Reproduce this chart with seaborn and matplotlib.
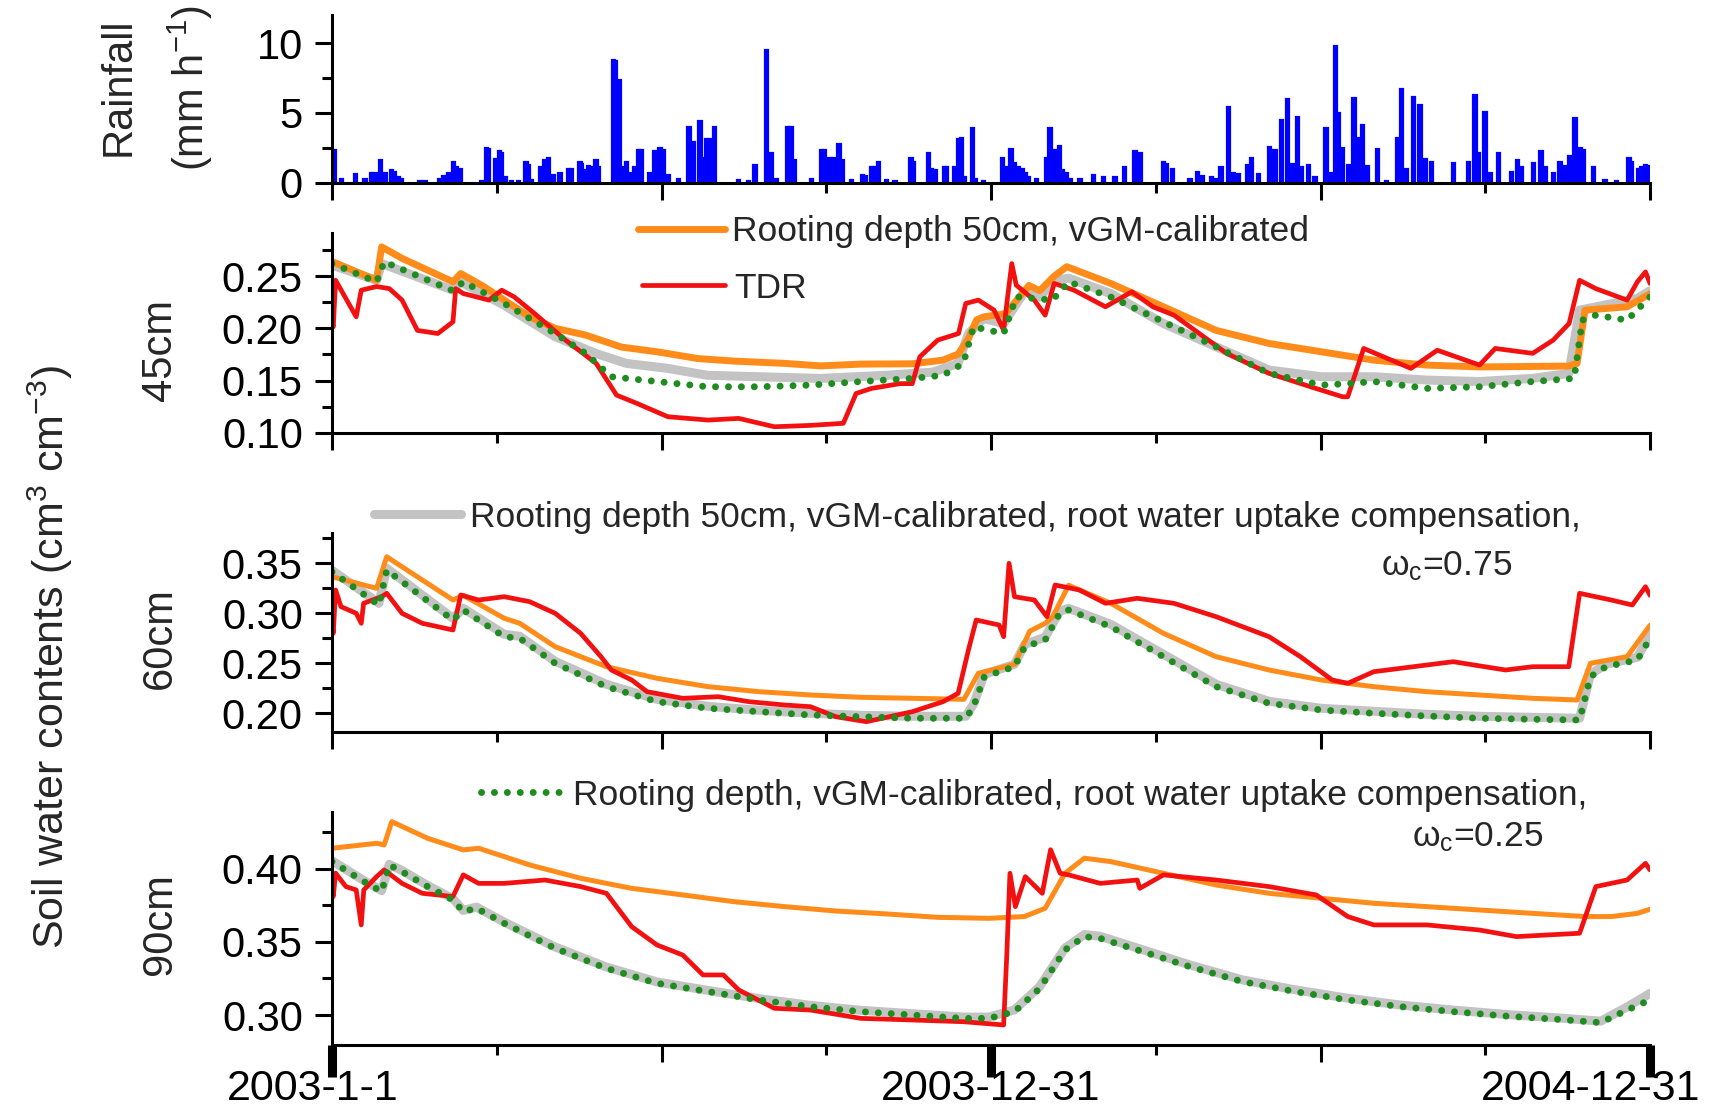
import matplotlib
matplotlib.use("Agg")
import matplotlib.pyplot as plt
import seaborn as sns
from matplotlib.lines import Line2D
from matplotlib.ticker import FixedLocator, NullFormatter, FormatStrFormatter
from matplotlib.transforms import blended_transform_factory, ScaledTranslation

# ---------------- data ----------------
rain_day = [1.3, 5.4, 13.1, 18.3, 22, 23.8, 27, 29.4, 33, 34.3, 36.7, 38.6, 48.7, 51.5, 59.8, 61.7, 64.4,
            67.2, 69, 70.9, 82.9, 85.7, 86.6, 90.6, 92.7, 93.6, 95.8, 99.5, 103.2, 107.5, 108.7, 110.6,
            115.8, 118, 119.8, 122.6, 126.3, 130.9, 132.8, 137.4, 138.3, 140.1, 142, 143.8, 146.2, 147.5,
            156, 157.1, 159, 162.3, 163.2, 164.5, 167.8, 169.7, 171.1, 176.1, 178.9, 181.7, 183.5, 186.3,
            191.8, 197.7, 200.1, 203.8, 205.7, 207.5, 209.4, 211.7, 225, 230.6, 234.3, 240.7, 243.5,
            246.3, 252.4, 254.2, 256.1, 265.7, 271.2, 272.7, 275.8, 277.7, 280.8, 282.7, 287.8, 293.7,
            295.2, 298.9, 300.4, 302.6, 307.2, 311.8, 320.7, 322, 330.3, 332.1, 334, 339.5, 340.5, 345.1,
            346.9, 348.8, 350.2, 354.9, 356.1, 360.7, 371.3, 372.8, 376.1, 377.9, 380.1, 382.3, 383.8,
            385.7, 390.3, 395.8, 397.7, 400.4, 402.8, 404.7, 406.9, 408.8, 414.3, 421.7, 427.2, 433.7,
            438.8, 444.7, 447.5, 460.4, 462.3, 465.4, 475.2, 479.5, 482, 487.2, 489.1, 492.4, 496.5,
            499.2, 502, 507.2, 509.4, 513.1, 519.2, 522.3, 526, 529.1, 531.9, 534.7, 537.1, 540.8, 544.5,
            550.5, 552.8, 555.9, 557.4, 559.8, 562.9, 566.1, 568.5, 570.9, 573.4, 579.2, 584.2, 590.2,
            592.5, 595.2, 598.9, 602.6, 605.4, 609.1, 621.1, 629.4, 633.1, 635, 638.6, 641.4, 646, 653.4,
            656.7, 658.9, 665.4, 669.6, 671.8, 676.4, 680.1, 682.9, 685.7, 688.4, 691.2, 693, 698.6, 705,
            711.6, 718.4, 719.8, 723.5, 725.4, 727.6, 729.4]
rain_mm = [2.35, 0.3, 0.6, 0.25, 0.7, 0.7, 1.6, 0.7, 0.9, 0.8, 0.4, 0.25, 0.15, 0.15, 0.3, 0.5, 0.7,
           1.45, 1.15, 1.0, 0.15, 2.5, 2.4, 1.7, 2.25, 2.1, 0.4, 0.15, 0.15, 1.5, 1.3, 0.2,
           1.15, 1.6, 1.75, 0.55, 0.7, 0.95, 0.95, 1.45, 1.35, 0.9, 1.2, 1.1, 1.6, 1.15,
           8.8, 8.7, 7.4, 1.15, 1.5, 0.7, 1.15, 2.35, 2.35, 0.7, 2.3, 2.5, 2.35, 0.55,
           0.3, 4.0, 2.95, 4.4, 1.75, 3.1, 3.1, 4.0, 0.2, 0.15, 1.3, 9.55, 2.1,
           0.3, 4.0, 4.0, 1.6, 0.3, 2.35, 2.35, 1.8, 1.75, 2.8, 1.6, 0.2, 0.55,
           0.5, 1.15, 1.15, 1.45, 0.2, 0.15, 1.8, 1.5, 2.1, 1.0, 0.9, 1.15, 1.15, 1.15,
           3.1, 3.2, 0.4, 3.9, 0.3, 0.15, 1.8, 1.15, 2.4, 1.4, 1.15, 0.95, 0.7,
           0.4, 0.25, 1.8, 3.9, 2.35, 2.65, 0.9, 0.7, 0.3, 0.3, 0.55, 0.4, 0.4,
           1.15, 2.25, 2.15, 1.5, 1.35, 1.0, 0.3, 0.8, 0.5, 0.4, 0.3, 1.1, 5.4,
           0.7, 0.6, 1.3, 1.75, 0.6, 2.55, 2.35, 4.5, 6.0, 1.35, 4.7, 1.15, 1.3, 0.4,
           3.9, 0.7, 9.8, 5.0, 2.5, 1.3, 6.1, 3.2, 4.15, 1.2, 2.4, 0.15, 3.2,
           6.75, 1.0, 6.15, 5.6, 1.7, 1.5, 1.4, 1.5, 6.3, 2.1, 5.05, 0.7, 2.1, 0.8,
           1.6, 1.15, 1.4, 2.3, 1.15, 0.7, 1.45, 1.2, 1.9, 4.65, 2.5, 2.35, 1.1, 0.2,
           0.15, 1.8, 1.5, 0.95, 1.15, 1.3, 1.2]

# 45 cm
o45_day = [0, 24.7, 27.5, 38.8, 67, 71.3, 84, 95.4, 109.5, 123.6, 140.5, 160.3, 180, 202.7, 222.5, 250.7,
           270.5, 293, 321.4, 338.4, 346.8, 352.5, 357, 361, 373, 386, 392, 400, 407, 431.3, 460.5, 489.7,
           519, 548, 577, 606, 635.6, 685, 689.6, 694, 717.3, 730]
o45_val = [0.264, 0.246, 0.278, 0.267, 0.2445, 0.2525, 0.240, 0.227, 0.211, 0.200, 0.1935, 0.182, 0.1775,
           0.171, 0.1686, 0.1664, 0.164, 0.1657, 0.166, 0.1695, 0.1753, 0.190, 0.208, 0.211, 0.214, 0.241,
           0.236, 0.250, 0.259, 0.243, 0.2206, 0.198, 0.1855, 0.1775, 0.1695, 0.1648, 0.163, 0.1638,
           0.1664, 0.2174, 0.2206, 0.233]
g45_day = [0, 24.7, 27.5, 67, 71.3, 95.4, 123.6, 146, 163, 186, 208, 236.6, 270.5, 307, 332.7, 346.8,
           352.5, 361, 372, 383.5, 392, 400, 408, 431.3, 460.5, 489.7, 519, 548, 577, 606.4, 635.6, 665,
           685, 691, 723, 730]
g45_val = [0.2605, 0.246, 0.262, 0.2365, 0.2445, 0.222, 0.192, 0.176, 0.1664, 0.1616, 0.155, 0.1536,
           0.152, 0.155, 0.158, 0.1664, 0.195, 0.2094, 0.2046, 0.235, 0.230, 0.246, 0.248, 0.2333, 0.2046,
           0.1823, 0.160, 0.1536, 0.1536, 0.1504, 0.149, 0.152, 0.1568, 0.2174, 0.2286, 0.236]
gr45_day = [0, 24.7, 28.9, 67, 72.7, 95.4, 123.6, 140.5, 154.6, 180, 208, 236.6, 265, 293, 321.4, 338.4,
            349.7, 355.3, 372, 379, 399, 408, 431.3, 460.5, 489.7, 519, 548, 562.6, 577, 606.4, 635.6,
            665, 688, 692.5, 700, 717.3, 730]
gr45_val = [0.262, 0.2445, 0.2637, 0.236, 0.2445, 0.2238, 0.195, 0.176, 0.1536, 0.149, 0.144, 0.144,
            0.1456, 0.149, 0.152, 0.155, 0.1664, 0.2014, 0.195, 0.2302, 0.227, 0.2445, 0.230, 0.2062,
            0.1823, 0.1568, 0.1456, 0.147, 0.149, 0.1424, 0.144, 0.149, 0.152, 0.2078, 0.2126, 0.2078,
            0.230]
r45_day = [0, 0.7, 2, 13.4, 16.2, 24.7, 31.8, 38.8, 47.3, 58.6, 67, 68.5, 72.7, 86.9, 94, 101, 112.3,
           129.3, 146.3, 157.6, 169, 186, 208.3, 225.3, 245, 265, 283.2, 290.3, 298.8, 314.6, 321.4,
           325.6, 335.5, 347, 351, 358, 366.7, 372, 373.7, 376.5, 379, 389, 395, 400, 411, 428.4, 443,
           454.7, 466.3, 478, 495.5, 519, 542, 559.7, 562.6, 571.4, 597.6, 612.2, 635.6, 644.3, 665,
           676.4, 685.2, 691, 700, 717.3, 723, 727.5, 730]
r45_val = [0.205, 0.2014, 0.246, 0.211, 0.2365, 0.240, 0.238, 0.227, 0.198, 0.195, 0.2062, 0.238,
           0.2333, 0.227, 0.2365, 0.230, 0.214, 0.1887, 0.1664, 0.136, 0.128, 0.1153, 0.1121, 0.1137,
           0.1057, 0.107, 0.109, 0.1376, 0.1424, 0.147, 0.147, 0.1727, 0.1887, 0.195, 0.2238, 0.227,
           0.2174, 0.198, 0.223, 0.262, 0.2413, 0.227, 0.2126, 0.243, 0.2365, 0.2206, 0.235, 0.2206,
           0.2126, 0.198, 0.176, 0.1568, 0.144, 0.1344, 0.1344, 0.1807, 0.1616, 0.179, 0.1648, 0.1807,
           0.176, 0.1887, 0.2046, 0.246, 0.238, 0.227, 0.2445, 0.254, 0.243]

# 60 cm
o60_day = [0, 24.7, 30.3, 67, 72.7, 95.4, 104, 123.6, 152, 180, 208.3, 236.6, 265, 293, 321.4, 350,
           358, 378, 386.4, 395, 399, 408, 431.3, 460.5, 489.7, 519, 548, 577, 606.4, 635.6, 665, 689.6,
           697, 717.3, 730]
o60_val = [0.3365, 0.325, 0.3565, 0.3133, 0.318, 0.295, 0.290, 0.2666, 0.2466, 0.235, 0.2266, 0.2216,
           0.2183, 0.216, 0.215, 0.214, 0.240, 0.249, 0.282, 0.290, 0.296, 0.328, 0.31, 0.28, 0.2566,
           0.2433, 0.2333, 0.2266, 0.2216, 0.2183, 0.215, 0.2133, 0.25, 0.2566, 0.288]
g60_day = [0, 26, 30.3, 67, 72.7, 95.4, 104, 123.6, 152, 180, 208.3, 236.6, 265, 293, 321.4, 351, 355.3,
           361.3, 378, 383.7, 395, 403, 408, 431.3, 460.5, 489.7, 519, 548, 577, 606.4, 635.6, 665, 691,
           697, 705.6, 723, 730]
g60_val = [0.343, 0.310, 0.345, 0.295, 0.305, 0.279, 0.277, 0.252, 0.229, 0.214, 0.207, 0.203, 0.200,
           0.198, 0.197, 0.197, 0.209, 0.239, 0.249, 0.269, 0.276, 0.302, 0.305, 0.289, 0.259, 0.229,
           0.212, 0.205, 0.202, 0.199, 0.197, 0.196, 0.195, 0.239, 0.249, 0.256, 0.279]
gr60_day = [0, 26, 30.3, 67, 72.7, 95.4, 104, 123.6, 152, 180, 208.3, 236.6, 265, 293, 321.4, 351,
            355.3, 361.3, 378, 383.7, 395, 403, 408, 431.3, 460.5, 489.7, 519, 548, 577, 606.4, 635.6,
            665, 691, 697, 705.6, 723, 730]
gr60_val = [0.3415, 0.3083, 0.3432, 0.2933, 0.3033, 0.2766, 0.275, 0.25, 0.2266, 0.2116, 0.205, 0.2016,
            0.1983, 0.1966, 0.195, 0.195, 0.2066, 0.2366, 0.2466, 0.2666, 0.2733, 0.300, 0.3033, 0.2866,
            0.2566, 0.2266, 0.21, 0.2033, 0.20, 0.1973, 0.195, 0.194, 0.1933, 0.2366, 0.2466, 0.2533,
            0.275]
r60_day = [0, 0.7, 2, 5, 13.4, 16.2, 17.5, 27.5, 30.3, 38.8, 50, 67, 71.3, 81.2, 95.4, 109.5, 123.6,
           137.7, 149, 154.7, 166, 174.5, 194.3, 214, 231, 250.7, 265, 279, 296, 321.4, 338.4, 346.8,
           352.5, 356.8, 369.5, 372, 375, 378, 389, 396, 400.5, 414, 428.4, 446, 466.3, 489.7, 519,
           536.4, 554, 562.6, 577, 606.4, 621, 650, 665, 685, 691, 708.5, 720.2, 727.5, 730]
r60_val = [0.29, 0.28, 0.3233, 0.3066, 0.30, 0.29, 0.31, 0.3166, 0.32, 0.30, 0.29, 0.2833, 0.3183,
           0.3133, 0.3166, 0.3116, 0.30, 0.28, 0.2566, 0.2433, 0.2333, 0.2216, 0.215, 0.2166, 0.2116,
           0.2083, 0.2066, 0.1966, 0.1916, 0.2016, 0.2116, 0.22, 0.2633, 0.2933, 0.2883, 0.2766, 0.35,
           0.3166, 0.3133, 0.2966, 0.3283, 0.3233, 0.31, 0.315, 0.31, 0.2966, 0.2766, 0.2566, 0.2333,
           0.23, 0.2416, 0.2483, 0.2516, 0.2433, 0.2466, 0.2466, 0.32, 0.3133, 0.3083, 0.3266, 0.318]

# 90 cm
o90_day = [0, 24.7, 28.9, 33.1, 53, 72.7, 81.2, 109.5, 137.7, 166, 194.3, 222.5, 250.7, 279, 307.2,
           335.5, 363.8, 383.5, 395, 406, 416.7, 431.3, 460.5, 489.7, 519, 548, 577, 606.4, 635.6, 665,
           694, 708.5, 723, 730]
o90_val = [0.414, 0.4174, 0.4163, 0.4322, 0.4208, 0.4129, 0.414, 0.4026, 0.3935, 0.3866, 0.3821, 0.3775,
           0.3741, 0.3711, 0.3691, 0.3668, 0.3661, 0.3673, 0.373, 0.3969, 0.4072, 0.4049, 0.3969, 0.3889,
           0.3832, 0.3798, 0.3764, 0.3741, 0.3718, 0.3695, 0.3673, 0.3673, 0.3695, 0.3723]
g90_day = [0, 16.2, 27.5, 31.7, 38.8, 53, 67, 72.7, 80, 95.4, 123.6, 152, 180, 208.3, 236.6, 265, 293,
           321.4, 350, 363.8, 378, 392, 406, 416.7, 425.5, 446, 475, 504.3, 533.5, 562.6, 592, 621, 650,
           679.4, 702.7, 717.3, 730]
g90_val = [0.4055, 0.393, 0.385, 0.403, 0.3988, 0.3885, 0.3795, 0.3715, 0.3738, 0.3635, 0.3465, 0.3328,
           0.3226, 0.3168, 0.3112, 0.3066, 0.3032, 0.3009, 0.2986, 0.2986, 0.3035, 0.3195, 0.3458, 0.355,
           0.3538, 0.3458, 0.3343, 0.324, 0.3172, 0.3115, 0.3068, 0.3034, 0.3004, 0.298, 0.2958, 0.3055,
           0.3148]
gr90_day = [0, 16.2, 27.5, 31.7, 38.8, 53, 67, 72.7, 80, 95.4, 123.6, 152, 180, 208.3, 236.6, 265, 293,
            321.4, 350, 363.8, 378, 392, 406, 416.7, 425.5, 446, 475, 504.3, 533.5, 562.6, 592, 621, 650,
            679.4, 702.7, 717.3, 730]
gr90_val = [0.4049, 0.3923, 0.3844, 0.4026, 0.398, 0.3878, 0.3787, 0.3707, 0.373, 0.3627, 0.3456, 0.3319,
            0.3217, 0.316, 0.3103, 0.3057, 0.3023, 0.30, 0.2977, 0.2977, 0.3023, 0.3182, 0.3445, 0.3536,
            0.3524, 0.3445, 0.3331, 0.3228, 0.316, 0.3103, 0.3057, 0.3023, 0.2993, 0.297, 0.2948, 0.3034,
            0.3103]
r90_day = [0, 0.7, 2, 7.7, 13.4, 16.2, 17.6, 24.7, 28.9, 38.8, 50, 67, 72.7, 81.2, 95.4, 118, 137.7, 152,
           166, 180, 194.3, 205.5, 216.8, 225.3, 245, 265, 293, 321.4, 350, 361, 372, 373.7, 375.5,
           378.5, 384, 393.4, 398, 403.3, 408, 425.5, 446, 447.4, 460.5, 489.7, 519, 545.1, 562.6, 577,
           606.4, 635.6, 656, 691, 700, 717.3, 727.5, 730]
r90_val = [0.385, 0.381, 0.397, 0.3878, 0.3855, 0.3616, 0.3855, 0.3946, 0.3992, 0.39, 0.3832, 0.381,
           0.3958, 0.39, 0.39, 0.3923, 0.3878, 0.3832, 0.3604, 0.3479, 0.341, 0.3274, 0.3274, 0.3171,
           0.3046, 0.3034, 0.2977, 0.2966, 0.2954, 0.2943, 0.2932, 0.34, 0.3969, 0.3741, 0.3946, 0.3832,
           0.413, 0.3969, 0.3958, 0.39, 0.3923, 0.3866, 0.3958, 0.3923, 0.3878, 0.3821, 0.3673, 0.3616,
           0.3616, 0.3581, 0.3536, 0.3559, 0.3878, 0.3923, 0.4037, 0.3992]

date_days = [0, 365, 730]
date_labels = ["2003-1-1", "2003-12-31", "2004-12-31"]
depth_labels = ["45cm", "60cm", "90cm"]
legend_labels = ["Rooting depth 50cm, vGM-calibrated",
                 "TDR",
                 "Rooting depth 50cm, vGM-calibrated, root water uptake compensation,",
                 "Rooting depth, vGM-calibrated, root water uptake compensation,"]
omega_labels = ["ω$_{\\mathrm{c}}$=0.75", "ω$_{\\mathrm{c}}$=0.25"]

# ---------------- style ----------------
sns.set_theme(style="ticks")
plt.rcParams["font.family"] = ["Liberation Sans", "DejaVu Sans"]
plt.rcParams["mathtext.fontset"] = "custom"
plt.rcParams["mathtext.rm"] = "Liberation Sans"
plt.rcParams["mathtext.it"] = "Liberation Sans:italic"
plt.rcParams["mathtext.bf"] = "Liberation Sans:bold"

ORANGE = "#FF8C1A"
GRAY = "#C3C3C3"
GREEN = "#1E8C1E"
RED = "#F21010"
BLUE = "#0000FF"

W, H = 1726, 1111
fig = plt.figure(figsize=(W / 100, H / 100), dpi=100)


def rect(top, bottom, left=332, right=1650):
    return [left / W, 1 - bottom / H, (right - left) / W, (bottom - top) / H]


ax1 = fig.add_axes(rect(15, 182.7))
ax2 = fig.add_axes(rect(233.3, 432.7))
ax3 = fig.add_axes(rect(533.3, 732.3))
ax4 = fig.add_axes(rect(811.7, 1045))
axes = [ax1, ax2, ax3, ax4]

# rainfall bars
ax1.bar(rain_day, rain_mm, width=1.9, color=BLUE, edgecolor=BLUE, linewidth=1.6, align="center")

orange_lw = [5.0, 3.6, 3.6]
panels = [
    (ax2, (o45_day, o45_val), (g45_day, g45_val), (gr45_day, gr45_val), (r45_day, r45_val)),
    (ax3, (o60_day, o60_val), (g60_day, g60_val), (gr60_day, gr60_val), (r60_day, r60_val)),
    (ax4, (o90_day, o90_val), (g90_day, g90_val), (gr90_day, gr90_val), (r90_day, r90_val)),
]
dot_style = dict(linestyle=(0, (0.01, 1.85)), dash_capstyle="round")
for i, (ax, o, g, gr, r) in enumerate(panels):
    sns.lineplot(x=g[0], y=g[1], ax=ax, color=GRAY, lw=6.5, estimator=None, sort=False,
                 legend=False, solid_capstyle="round")
    sns.lineplot(x=o[0], y=o[1], ax=ax, color=ORANGE, lw=orange_lw[i], estimator=None, sort=False,
                 legend=False)
    sns.lineplot(x=r[0], y=r[1], ax=ax, color=RED, lw=3.4, estimator=None, sort=False, legend=False)
    sns.lineplot(x=gr[0], y=gr[1], ax=ax, color=GREEN, lw=5.0, estimator=None, sort=False,
                 legend=False, **dot_style)

# axes formatting
ylims = [(0, 12.03), (0.10, 0.291), (0.181, 0.38), (0.2795, 0.439)]
ymaj = [[0, 5, 10], [0.10, 0.15, 0.20, 0.25], [0.20, 0.25, 0.30, 0.35], [0.30, 0.35, 0.40]]
ymin = [[2.5, 7.5], [0.125, 0.175, 0.225, 0.275], [0.225, 0.275, 0.325, 0.375], [0.325, 0.375, 0.425]]
yfmt = ["%d", "%.2f", "%.2f", "%.2f"]
for ax, yl, ma, mi, fmt in zip(axes, ylims, ymaj, ymin, yfmt):
    ax.set_xlim(0, 730)
    ax.set_ylim(*yl)
    ax.set_xlabel("")
    ax.set_ylabel("")
    ax.yaxis.set_major_locator(FixedLocator(ma))
    ax.yaxis.set_minor_locator(FixedLocator(mi))
    ax.yaxis.set_major_formatter(FormatStrFormatter(fmt))
    ax.xaxis.set_major_locator(FixedLocator([0, 182.5, 365, 547.5, 730]))
    ax.xaxis.set_minor_locator(FixedLocator([91.25, 273.75, 456.25, 638.75]))
    ax.xaxis.set_major_formatter(NullFormatter())
    for s in ["top", "right"]:
        ax.spines[s].set_visible(False)
    for s in ["left", "bottom"]:
        ax.spines[s].set_linewidth(2.2)
        ax.spines[s].set_color("black")
    ax.tick_params(axis="both", which="major", direction="out", length=12, width=2.2, color="black",
                   labelsize=30, pad=9, labelcolor="black")
    ax.tick_params(axis="both", which="minor", direction="out", length=7, width=2.2, color="black")
    ax.set_facecolor("white")
    ax.patch.set_alpha(0)

# date labels below bottom axis (baseline placed just above the figure's bottom edge)
tr = blended_transform_factory(ax4.transData, fig.transFigure)
date_shift = [-0.19, 0.0, -0.59]
for d, lab, dx in zip(date_days, date_labels, date_shift):
    ax4.text(d, 1 - 1100 / H, lab, transform=tr + ScaledTranslation(dx, 0, fig.dpi_scale_trans),
             ha="center", va="baseline", fontsize=31, color="black")

# text labels
def fx(x):
    return x / W


def fy(y):
    return 1 - y / H


fig.text(fx(119), fy(87), "Rainfall", rotation=90, ha="center", va="center", fontsize=30)
fig.text(fx(190), fy(88), "(mm h$^{-1}$)", rotation=90, ha="center", va="center", fontsize=30)
for lab, yc in zip(depth_labels, [350, 638, 924]):
    fig.text(fx(160), fy(yc), lab, rotation=90, ha="center", va="center", fontsize=30)
fig.text(fx(50), fy(657), "Soil water contents (cm$^{3}$ cm$^{-3}$)", rotation=90, ha="center",
         va="center", fontsize=31)

# legends
leg_specs = [
    (Line2D([], [], color=ORANGE, lw=5.0), legend_labels[0], 638, 232, 2.45, 0.2),
    (Line2D([], [], color=RED, lw=3.4), legend_labels[1], 642, 288, 2.33, 0.28),
    (Line2D([], [], color=GRAY, lw=6.5, solid_capstyle="round"), legend_labels[2], 374, 517, 2.45, 0.26),
    (Line2D([], [], color=GREEN, lw=5.0, **dot_style), legend_labels[3], 481, 795, 2.4, 0.2),
]
for h, lab, x, y, hl, tp in leg_specs:
    fig.legend(handles=[h], labels=[lab], loc="center left", bbox_to_anchor=(fx(x), fy(y)),
               bbox_transform=fig.transFigure, frameon=False, fontsize=25.5, handlelength=hl,
               handletextpad=tp, borderpad=0, borderaxespad=0)

fig.text(fx(1381), fy(566), omega_labels[0], ha="left", va="center", fontsize=25.5)
fig.text(fx(1412), fy(837), omega_labels[1], ha="left", va="center", fontsize=25.5)

# thick labelled ticks on the bottom axis
fig.canvas.draw()
for idx, t in enumerate(ax4.xaxis.get_major_ticks()):
    if idx in (0, 2, 4):
        t.tick1line.set_markersize(23)
        t.tick1line.set_markeredgewidth(6.5)

fig.savefig("out.png", dpi=100, facecolor="white")
